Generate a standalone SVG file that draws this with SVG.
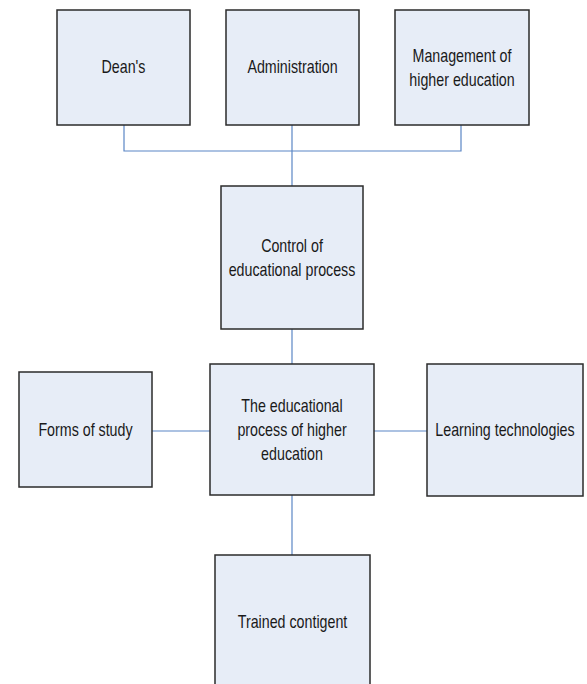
<svg xmlns="http://www.w3.org/2000/svg" width="587" height="684" viewBox="0 0 587 684">
<style>
.box{fill:#e7edf7;stroke:#2b2b2b;stroke-width:1.5}
.lbl{font-family:"Liberation Sans",Arial,sans-serif;font-size:19px;fill:#1a1a1a;text-anchor:middle}
.con{fill:none;stroke:#5b86c5;stroke-width:1.2}
</style>
<rect width="587" height="684" fill="#ffffff"/>
<g id="connectors">
<path class="con" d="M124,125 V151 H461 V125"/>
<path class="con" d="M292,125 V186"/>
<path class="con" d="M292,329 V364"/>
<path class="con" d="M152,431 H210"/>
<path class="con" d="M374,431 H427"/>
<path class="con" d="M292,495 V555"/>
</g>
<g id="deans">
<rect class="box" x="57" y="10" width="133" height="115"/>
<text class="lbl" transform="translate(123.5 73) scale(0.75 1)">Dean's</text>
</g>
<g id="administration">
<rect class="box" x="226" y="10" width="133" height="115"/>
<text class="lbl" transform="translate(292.5 73) scale(0.75 1)">Administration</text>
</g>
<g id="management">
<rect class="box" x="395" y="10" width="134" height="115"/>
<text class="lbl" transform="translate(462 62) scale(0.75 1)">Management of</text>
<text class="lbl" transform="translate(462 86) scale(0.75 1)">higher education</text>
</g>
<g id="control">
<rect class="box" x="221" y="186" width="142" height="143"/>
<text class="lbl" transform="translate(292 252) scale(0.75 1)">Control of</text>
<text class="lbl" transform="translate(292 276) scale(0.75 1)">educational process</text>
</g>
<g id="process">
<rect class="box" x="210" y="364" width="164" height="131"/>
<text class="lbl" transform="translate(292 412) scale(0.75 1)">The educational</text>
<text class="lbl" transform="translate(292 436) scale(0.75 1)">process of higher</text>
<text class="lbl" transform="translate(292 460) scale(0.75 1)">education</text>
</g>
<g id="forms">
<rect class="box" x="19" y="372" width="133" height="115"/>
<text class="lbl" transform="translate(85.5 436) scale(0.75 1)">Forms of study</text>
</g>
<g id="technologies">
<rect class="box" x="427" y="364" width="156" height="132"/>
<text class="lbl" transform="translate(505 436) scale(0.75 1)">Learning technologies</text>
</g>
<g id="trained">
<rect class="box" x="215" y="555" width="155" height="140"/>
<text class="lbl" transform="translate(292.5 628) scale(0.75 1)">Trained contigent</text>
</g>
</svg>
